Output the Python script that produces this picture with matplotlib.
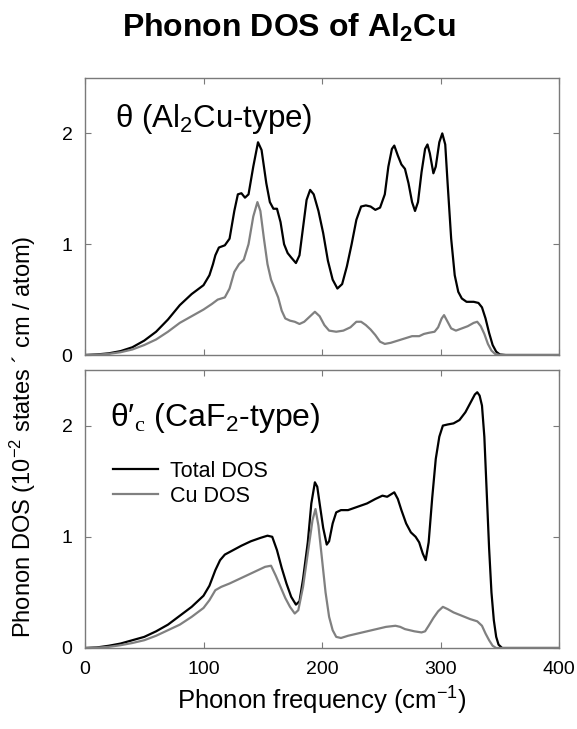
import matplotlib
matplotlib.use("Agg")
import matplotlib.pyplot as plt
import numpy as np

plt.rcParams['font.family'] = ['Liberation Sans', 'DejaVu Sans']
plt.rcParams['mathtext.fontset'] = 'custom'
plt.rcParams['mathtext.rm'] = 'Liberation Sans'
plt.rcParams['mathtext.bf'] = 'Liberation Sans:bold'
plt.rcParams['mathtext.it'] = 'Liberation Sans:italic'
plt.rcParams['mathtext.cal'] = 'Liberation Serif'

# ---- data: theta (Al2Cu-type) ----
top_total_f = [0, 10, 20, 30, 40, 50, 60, 70, 80, 90, 100, 105, 108, 110, 113, 118, 122, 126, 129, 132,
               135, 138, 142, 146, 149, 153, 156, 159, 162, 165, 168, 171, 174, 178, 181, 184, 187, 190,
               193, 197, 201, 205, 209, 213, 217, 221, 225, 229, 233, 237, 241, 245, 249, 253, 256, 259,
               261, 264, 267, 270, 273, 276, 278.5, 281, 284, 287, 289, 291, 294, 296, 299, 301.5, 304,
               306, 309, 312, 315, 318, 322, 328, 332, 335, 338, 341, 344, 347, 350, 355, 400]
top_total_v = [0.0, 0.005, 0.015, 0.035, 0.07, 0.13, 0.21, 0.32, 0.45, 0.55, 0.63, 0.72, 0.82, 0.90, 0.97,
               0.99, 1.05, 1.30, 1.45, 1.46, 1.42, 1.45, 1.70, 1.92, 1.85, 1.55, 1.38, 1.32, 1.32, 1.20,
               1.00, 0.92, 0.88, 0.83, 0.90, 1.15, 1.40, 1.49, 1.45, 1.30, 1.10, 0.85, 0.68, 0.60, 0.64,
               0.80, 1.00, 1.22, 1.34, 1.35, 1.34, 1.31, 1.33, 1.45, 1.70, 1.86, 1.89, 1.80, 1.72, 1.68,
               1.55, 1.38, 1.30, 1.38, 1.65, 1.86, 1.90, 1.82, 1.64, 1.70, 1.92, 2.00, 1.90, 1.55, 1.05,
               0.72, 0.57, 0.51, 0.48, 0.48, 0.47, 0.43, 0.33, 0.20, 0.09, 0.03, 0.005, 0.0, 0.0]
top_cu_f = [0, 10, 20, 30, 40, 50, 60, 70, 80, 90, 100, 107, 112, 118, 122, 126, 130, 134, 138, 142, 145.5,
            148, 151, 154, 157, 160, 163, 166, 169, 173, 177, 181, 185, 190, 194, 198, 202, 206, 212, 218,
            224, 229, 233, 237, 241, 245, 249, 253, 258, 264, 270, 276, 282, 286, 290, 295, 298, 301, 303,
            306, 309, 313, 318, 323, 328, 331, 334, 337, 340, 343, 346, 350, 400]
top_cu_v = [0.0, 0.003, 0.01, 0.025, 0.05, 0.09, 0.14, 0.21, 0.29, 0.35, 0.41, 0.46, 0.50, 0.52, 0.60, 0.75,
            0.82, 0.86, 1.00, 1.25, 1.38, 1.30, 1.05, 0.82, 0.68, 0.60, 0.52, 0.40, 0.33, 0.31, 0.30, 0.28,
            0.30, 0.35, 0.39, 0.35, 0.27, 0.22, 0.21, 0.22, 0.25, 0.30, 0.30, 0.27, 0.23, 0.18, 0.12, 0.10,
            0.11, 0.13, 0.15, 0.17, 0.17, 0.19, 0.20, 0.21, 0.25, 0.33, 0.36, 0.30, 0.24, 0.22, 0.24, 0.26,
            0.29, 0.30, 0.26, 0.19, 0.10, 0.04, 0.01, 0.0, 0.0]

# ---- data: theta'_c (CaF2-type) ----
bot_total_f = [0, 10, 20, 30, 40, 50, 60, 70, 80, 90, 100, 105, 110, 114, 118, 125, 132, 140, 148, 154,
               158, 162, 166, 170, 174, 178, 181, 184, 188, 191, 194, 196, 198, 201, 204, 206, 209, 212,
               216, 222, 230, 238, 245, 251, 255, 258, 261, 264, 267, 271, 275, 279, 282, 285, 287.5, 290,
               293, 296, 299, 302, 306, 311, 316, 321, 325, 329, 331, 333, 335, 337, 339, 341, 343, 345,
               347, 349, 352, 400]
bot_total_v = [0.0, 0.005, 0.02, 0.04, 0.07, 0.10, 0.15, 0.21, 0.29, 0.37, 0.47, 0.56, 0.70, 0.79, 0.84,
               0.88, 0.92, 0.96, 0.99, 1.01, 1.00, 0.88, 0.72, 0.58, 0.46, 0.39, 0.42, 0.62, 0.95, 1.30,
               1.49, 1.45, 1.30, 1.08, 0.93, 0.96, 1.12, 1.22, 1.24, 1.24, 1.27, 1.30, 1.34, 1.37, 1.36,
               1.38, 1.40, 1.34, 1.24, 1.12, 1.04, 1.00, 0.95, 0.85, 0.79, 0.95, 1.35, 1.70, 1.90, 2.00,
               2.01, 2.02, 2.05, 2.12, 2.20, 2.28, 2.30, 2.27, 2.18, 1.90, 1.40, 0.90, 0.50, 0.25, 0.10,
               0.03, 0.0, 0.0]
bot_cu_f = [0, 10, 20, 30, 40, 50, 60, 70, 80, 90, 100, 105, 110, 115, 122, 130, 138, 146, 152, 157, 161,
            165, 169, 173, 177, 180, 184, 188, 192, 194.5, 197, 200, 203, 206, 209, 212, 216, 222, 230, 238,
            246, 254, 262, 266, 270, 274, 278, 284, 287, 290, 294, 298, 302, 306, 311, 318, 325, 331, 335,
            338, 341, 344, 347, 400]
bot_cu_v = [0.0, 0.003, 0.01, 0.025, 0.045, 0.07, 0.11, 0.16, 0.21, 0.28, 0.36, 0.43, 0.52, 0.55, 0.58,
            0.62, 0.66, 0.70, 0.73, 0.74, 0.65, 0.55, 0.45, 0.37, 0.31, 0.34, 0.55, 0.85, 1.15, 1.25, 1.10,
            0.80, 0.50, 0.28, 0.16, 0.10, 0.09, 0.11, 0.13, 0.15, 0.17, 0.19, 0.20, 0.19, 0.17, 0.16, 0.15,
            0.14, 0.15, 0.20, 0.27, 0.33, 0.37, 0.35, 0.32, 0.29, 0.26, 0.24, 0.20, 0.13, 0.07, 0.02, 0.0,
            0.0]

x_ticks = [0, 100, 200, 300, 400]
y_ticks = [0, 1, 2]
series_labels = ["Total DOS", "Cu DOS"]

BLACK = "#000000"
GRAY = "#808080"
SPINE = "#7a7a7a"

fig = plt.figure(figsize=(5.77, 7.29), dpi=100)
W, H = 577, 729
ax1 = fig.add_axes([85 / W, 1 - 355 / H, 474 / W, 277 / H])
ax2 = fig.add_axes([85 / W, 1 - 648 / H, 474 / W, 278 / H])

for ax in (ax1, ax2):
    ax.set_xlim(0, 400)
    ax.set_ylim(0, 2.5)
    ax.set_xticks(x_ticks)
    ax.set_yticks(y_ticks)
    ax.tick_params(direction='in', top=True, right=True, length=4, width=0.8,
                   color=SPINE, labelsize=14)
    ax.tick_params(axis='x', pad=9)
    ax.tick_params(axis='y', pad=9)
    for s in ax.spines.values():
        s.set_color(SPINE)
        s.set_linewidth(1.0)

ax1.tick_params(labelbottom=False)

ax1.plot(top_total_f, top_total_v, color=BLACK, lw=1.6, label=series_labels[0])
ax1.plot(top_cu_f, top_cu_v, color=GRAY, lw=1.6, label=series_labels[1])
ax2.plot(bot_total_f, bot_total_v, color=BLACK, lw=1.6, label=series_labels[0])
ax2.plot(bot_cu_f, bot_cu_v, color=GRAY, lw=1.6, label=series_labels[1])

ax1.text(0.063, 0.823, "θ (Al$_2$Cu-type)", transform=ax1.transAxes, fontsize=22.5, va='baseline')
ax2.text(0.053, 0.80, "θ′$_{\\mathcal{c}}$ (CaF$_2$-type)", transform=ax2.transAxes, fontsize=23,
         va='baseline')

ax2.legend(loc='upper left', bbox_to_anchor=(0.04, 0.705), frameon=False, fontsize=15.5,
           handlelength=2.1, handletextpad=0.55, labelspacing=0.2, borderaxespad=0)

ax2.set_xlabel("Phonon frequency (cm$^{-1}$)", fontsize=18.5, labelpad=5)
fig.text(23 / W, 1 - 638 / H, "Phonon DOS (10$^{-2}$ states ´ cm / atom)", rotation=90,
         fontsize=17, ha='center', va='bottom')

fig.text(0.5, 1 - 37 / H, "Phonon DOS of Al$_\\mathbf{2}$Cu", fontsize=23, fontweight='bold',
         ha='center', va='baseline')

fig.savefig("out.png", dpi=100)
